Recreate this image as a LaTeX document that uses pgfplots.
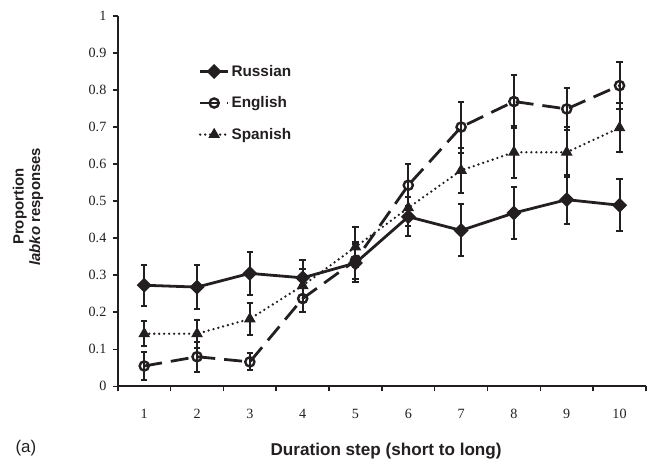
\documentclass[border=0pt]{standalone}
\usepackage{fontspec}
\setmainfont{Liberation Sans}
\newfontfamily\tickfont{Liberation Serif}
\usepackage{pgfplots}
\usepackage{pgfplotstable}
\pgfplotsset{compat=1.18}

\definecolor{ink}{HTML}{231F20}

\pgfplotstableread{
x y e
1 0.273 0.055
2 0.268 0.059
3 0.305 0.059
4 0.293 0.047
5 0.333 0.050
6 0.458 0.052
7 0.421 0.070
8 0.468 0.071
9 0.504 0.066
10 0.489 0.070
}\russian

\pgfplotstableread{
x y e
1 0.055 0.037
2 0.080 0.040
3 0.066 0.023
4 0.237 0.036
5 0.340 0.050
6 0.543 0.057
7 0.700 0.069
8 0.769 0.071
9 0.749 0.056
10 0.812 0.063
}\english

\pgfplotstableread{
x y e
1 0.142 0.034
2 0.142 0.038
3 0.182 0.043
4 0.272 0.045
5 0.376 0.055
6 0.482 0.050
7 0.583 0.060
8 0.632 0.070
9 0.632 0.067
10 0.698 0.066
}\spanish

\begin{document}
\begin{tikzpicture}
\begin{axis}[
    scale only axis,
    width=529bp, height=371bp,
    xmin=0.5, xmax=10.5,
    ymin=0, ymax=1,
    axis x line*=bottom,
    axis y line*=left,
    axis line style={ink, line width=1.8bp},
    xtick={1,...,10},
    major x tick style={draw=none},
    minor xtick={0.5,1.5,...,10.5},
    ytick={0,0.1,...,1},
    tick align=outside,
    major tick length=5bp,
    minor tick length=5bp,
    tick style={ink, line width=1.6bp},
    yticklabel style={/pgf/number format/fixed, /pgf/number format/precision=1, xshift=-3bp},
    /pgf/number format/assume math mode=true,
    ticklabel style={font=\tickfont\fontsize{14.2}{15}\selectfont, text=ink},
    xticklabel style={yshift=-14bp},
    xlabel={Duration step (short to long)},
    xlabel style={at={(axis description cs:0.508,-0.175)}, anchor=center,
        font=\bfseries\fontsize{17.2}{18}\selectfont, text=ink},
    ylabel={Proportion\\\textit{labko} responses},
    ylabel style={at={(axis description cs:-0.170,0.485)}, anchor=center, align=center,
        font=\bfseries\fontsize{15}{16.5}\selectfont, text=ink},
    clip=false,
    legend style={draw=none, fill=none, at={(axis description cs:0.153,0.873)},
        anchor=north west, font=\bfseries\fontsize{15.4}{16}\selectfont, text=ink,
        row sep=15bp, inner sep=0pt},
    legend cell align=left,
    legend image code/.code={
        \draw[mark repeat=2, mark phase=2, #1] plot coordinates {(0bp,0bp) (14bp,0bp) (28bp,0bp)};
    },
    error bars/y dir=both,
    error bars/y explicit,
    error bars/error bar style={ink, line width=2bp, solid},
    error bars/error mark options={ink, line width=2bp, mark size=3.2bp, rotate=90, solid},
]
\addplot[ink, line width=2.8bp, mark=square*, mark size=3.9bp, mark options={fill=ink, solid, rotate=45}]
    table[x=x, y=y, y error=e] {\russian};
\addlegendentry{Russian}
\addplot[ink, line width=2.8bp, dash pattern=on 18bp off 9bp, mark=o, mark size=4.6bp,
    mark options={solid, line width=2.4bp}]
    table[x=x, y=y, y error=e] {\english};
\addlegendentry{English}
\addplot[ink, line width=2.6bp, dash pattern=on 0bp off 5bp, line cap=round, mark=triangle*, mark size=5.8bp,
    mark options={solid, fill=ink, line cap=butt, line width=1bp}]
    table[x=x, y=y, y error=e] {\spanish};
\addlegendentry{Spanish}
\node[anchor=west, font=\fontsize{17}{18}\selectfont, text=ink] at (axis description cs:-0.2004,-0.166) {(a)};
\path (axis description cs:-0.2231,-0.2075) rectangle (axis description cs:1.002,1.0431);
\end{axis}
\end{tikzpicture}
\end{document}
